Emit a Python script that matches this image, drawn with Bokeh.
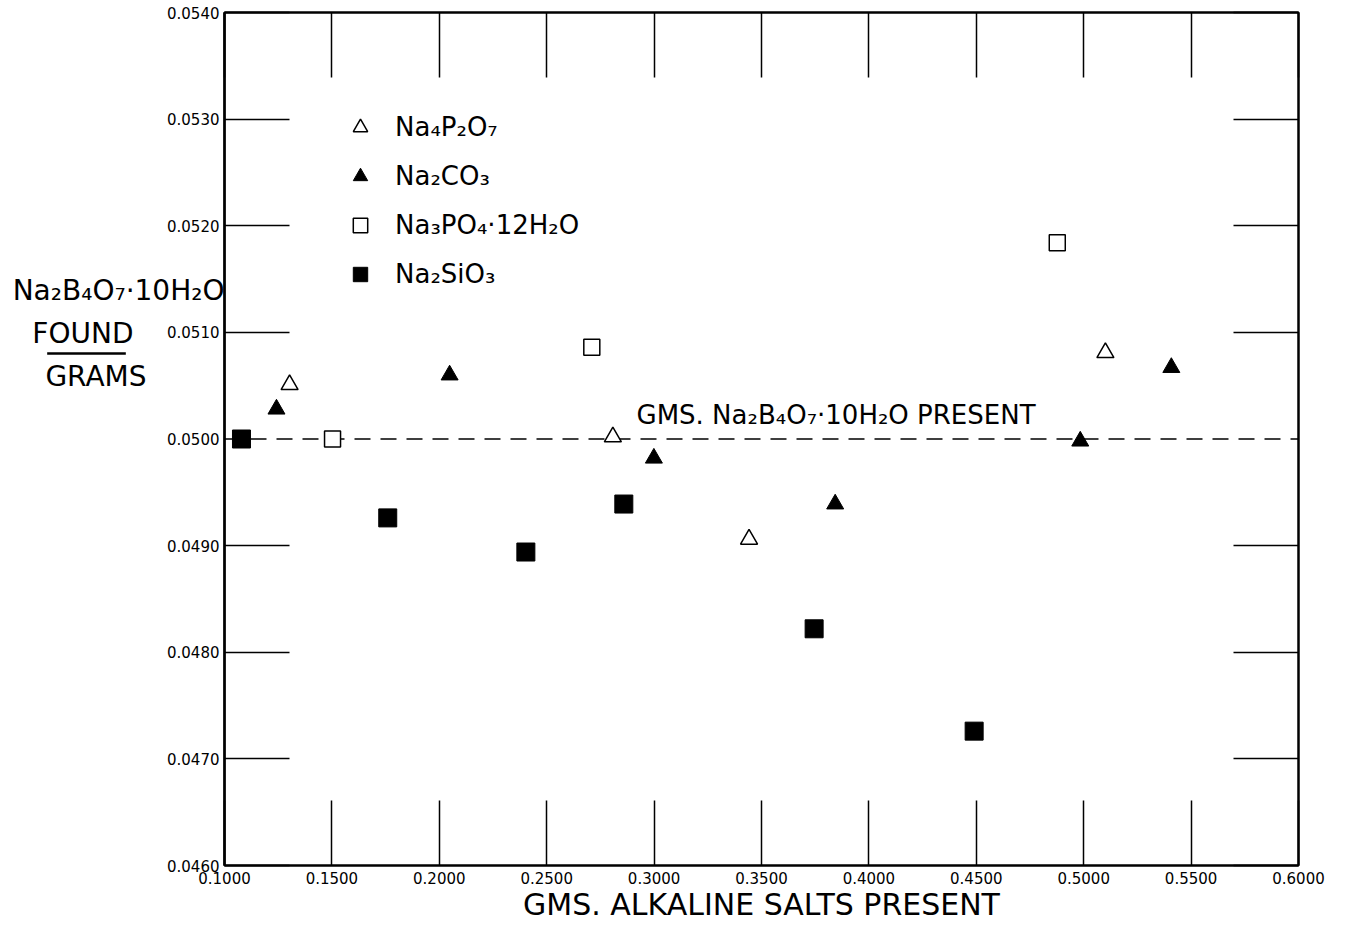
import json
from bokeh.plotting import figure
from bokeh.models import (Range1d, LinearAxis, FixedTicker, NumeralTickFormatter, Span, Label,
                          Legend, LegendItem, CustomJSTickFormatter)
from bokeh.embed import file_html
from bokeh.resources import INLINE

FONT = "DejaVu Sans"

# ---- data ----
na4p2o7_x = [0.1303, 0.2808, 0.3442, 0.5101]
na4p2o7_y = [0.05051, 0.05002, 0.04906, 0.05081]

na2co3_x = [0.1242, 0.2048, 0.2999, 0.3843, 0.4984, 0.5408]
na2co3_y = [0.05028, 0.05060, 0.04982, 0.04939, 0.04998, 0.05067]

na3po4_x = [0.1503, 0.2710, 0.4877]
na3po4_y = [0.05000, 0.05086, 0.05184]

na2sio3_x = [0.1079, 0.1760, 0.2403, 0.2859, 0.3745, 0.4490]
na2sio3_y = [0.05000, 0.04926, 0.04894, 0.04939, 0.04822, 0.04726]

series_labels = ["Na₄P₂O₇", "Na₂CO₃", "Na₃PO₄·12H₂O", "Na₂SiO₃"]

x_ticks = [0.10, 0.15, 0.20, 0.25, 0.30, 0.35, 0.40, 0.45, 0.50, 0.55, 0.60]
y_ticks = [0.046, 0.047, 0.048, 0.049, 0.050, 0.051, 0.052, 0.053, 0.054]
borax_present = 0.0500

x_title = "GMS. ALKALINE SALTS PRESENT"
y_title_lines = ["Na₂B₄O₇·10H₂O", "FOUND", "GRAMS"]
ref_label = "GMS. Na₂B₄O₇·10H₂O PRESENT"

W, H = 1347, 925
FRAME_TOP, FRAME_BOTTOM = 12, 865

# ---- figure ----
p = figure(width=W, height=H,
           x_range=Range1d(0.10, 0.60), y_range=Range1d(0.046, 0.054),
           output_backend="svg", toolbar_location=None,
           x_axis_location=None, y_axis_location=None,
           min_border_left=224, min_border_right=49,
           min_border_top=FRAME_TOP, min_border_bottom=H - FRAME_BOTTOM)
p.background_fill_color = "white"
p.border_fill_color = "white"
p.outline_line_color = "black"
p.outline_line_width = 2
for g in p.grid:
    g.visible = False

blank = CustomJSTickFormatter(code="return ''")


def tick_only_axis(ticks):
    return LinearAxis(ticker=FixedTicker(ticks=ticks, minor_ticks=[]),
                      formatter=blank,
                      major_tick_in=65, major_tick_out=0,
                      minor_tick_in=0, minor_tick_out=0,
                      major_label_text_font_size="0px", major_label_standoff=0,
                      axis_line_color="black", axis_line_width=2,
                      major_tick_line_color="black", major_tick_line_width=1.5)


side_ticks = [t for t in y_ticks if abs(t - borax_present) > 1e-9]

# bottom axis with labels
xb = LinearAxis(ticker=FixedTicker(ticks=x_ticks, minor_ticks=[]),
                formatter=NumeralTickFormatter(format="0.0000"),
                major_tick_in=65, major_tick_out=0,
                minor_tick_in=0, minor_tick_out=0,
                major_label_standoff=6,
                major_label_text_font=FONT, major_label_text_font_size="15px",
                major_label_text_color="black",
                axis_label=x_title, axis_label_text_font=FONT,
                axis_label_text_font_size="30px", axis_label_text_font_style="normal",
                axis_label_text_color="black", axis_label_standoff=0,
                axis_line_color="black", axis_line_width=2,
                major_tick_line_color="black", major_tick_line_width=1.5)
p.add_layout(xb, "below")
p.add_layout(tick_only_axis(x_ticks), "above")

# left: inner tick-only axis, then labelled axis
p.add_layout(tick_only_axis(side_ticks), "left")
yl = LinearAxis(ticker=FixedTicker(ticks=y_ticks, minor_ticks=[]),
                formatter=NumeralTickFormatter(format="0.0000"),
                major_tick_in=0, major_tick_out=0,
                minor_tick_in=0, minor_tick_out=0,
                major_label_standoff=5,
                major_label_text_font=FONT, major_label_text_font_size="15px",
                major_label_text_color="black",
                axis_line_color="black", axis_line_width=2)
p.add_layout(yl, "left")
p.add_layout(tick_only_axis(side_ticks), "right")


# y title block: one label-only axis per line (axes are not clipped to the frame)
def page_y_to_data(py):
    return 0.046 + (FRAME_BOTTOM - py) / (FRAME_BOTTOM - FRAME_TOP) * 0.008


def title_axis(text, page_y, standoff):
    loc = page_y_to_data(page_y)
    return LinearAxis(ticker=FixedTicker(ticks=[loc], minor_ticks=[]),
                      formatter=CustomJSTickFormatter(code="return " + json.dumps(text)),
                      major_tick_in=0, major_tick_out=0,
                      minor_tick_in=0, minor_tick_out=0,
                      major_label_standoff=standoff,
                      major_label_text_font=FONT, major_label_text_font_size="28px",
                      major_label_text_color="black",
                      axis_line_alpha=0)


# order: largest left edge first, so that panels do not grow past the border
p.add_layout(title_axis(y_title_lines[2], 376, 18), "left")     # GRAMS
p.add_layout(title_axis(y_title_lines[1], 333, -91), "left")    # FOUND
p.add_layout(title_axis(y_title_lines[0], 290, -195), "left")   # Na2B4O7.10H2O

# underline under FOUND (thin bar in the top panel so it is not clipped)
p.add_layout(Label(x=86, y=353, x_units="canvas", y_units="canvas",
                   text=" ", text_font=FONT, text_font_size="2px",
                   text_align="center", text_baseline="middle",
                   background_fill_color="black", background_fill_alpha=1,
                   padding=(39, 0)), "above")

# reference line
span = Span(location=borax_present, dimension="width", line_color="black",
            line_width=1.5, line_dash="16 10", level="underlay")
p.add_layout(span)

# markers
r1 = p.scatter(na4p2o7_x, na4p2o7_y, marker="triangle", size=17,
               fill_color="white", line_color="black", line_width=1.5)
r2 = p.scatter(na2co3_x, na2co3_y, marker="triangle", size=17,
               fill_color="black", line_color="black", line_width=1)
r3 = p.scatter(na3po4_x, na3po4_y, marker="square", size=16,
               fill_color="white", line_color="black", line_width=1.5)
r4 = p.scatter(na2sio3_x, na2sio3_y, marker="square", size=18,
               fill_color="black", line_color="black", line_width=1)

legend = Legend(items=[LegendItem(label=series_labels[0], renderers=[r1]),
                       LegendItem(label=series_labels[1], renderers=[r2]),
                       LegendItem(label=series_labels[2], renderers=[r3]),
                       LegendItem(label=series_labels[3], renderers=[r4])],
                location=(118, 573), orientation="vertical",
                glyph_width=36, glyph_height=36, spacing=13,
                label_standoff=17, padding=0, margin=0,
                border_line_alpha=0, background_fill_alpha=0,
                label_text_font=FONT, label_text_font_size="26px",
                label_text_color="black")
p.add_layout(legend)

# reference line label
p.add_layout(Label(x=0.2918, y=borax_present, y_offset=24, text=ref_label,
                   text_font=FONT, text_font_size="26px", text_color="black",
                   text_baseline="middle", text_align="left"))

open("out.html", "w").write(file_html(p, INLINE))
